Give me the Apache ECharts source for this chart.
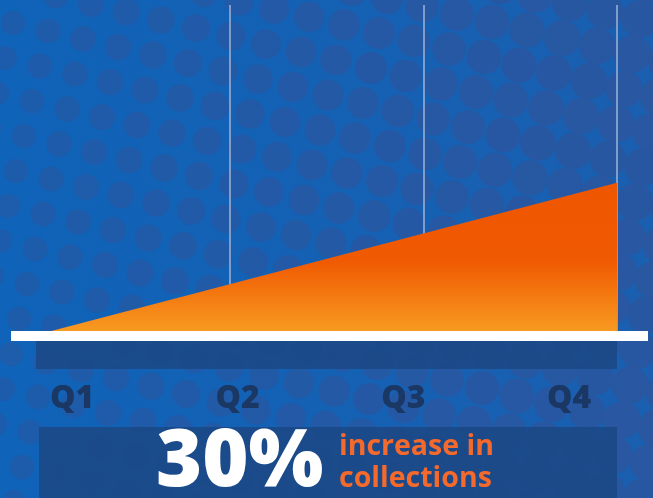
<!DOCTYPE html>
<html>
<head>
<meta charset="utf-8">
<script src="https://cdn.jsdelivr.net/npm/echarts@6/dist/echarts.min.js"></script>
<style>
html,body{margin:0;padding:0;background:#0f63b8;}
#chart{width:653px;height:498px;}
</style>
</head>
<body>
<div id="chart"></div>
<script>
// ---- data ----
var quarters = ['Q1', 'Q2', 'Q3', 'Q4'];
var collections = [0, 10, 20, 30];
var headline = '30%';
var caption = ['increase in', 'collections'];

// ---- chart ----
var chart = echarts.init(document.getElementById('chart'), null, {renderer: 'canvas'});

// decorative background dot pattern
var deco = [];
deco.push({type: 'rect', z: -20, shape: {x: 0, y: 0, width: 653, height: 498},
  style: {fill: new echarts.graphic.LinearGradient(0, 0, 1, 0, [
    {offset: 0, color: '#0f63b8'}, {offset: 1, color: '#1a5fb0'}])}});
for (var i = -20; i < 40; i++) {
  for (var j = -10; j < 25; j++) {
    var cx = 18 + i * 35 - j * 8;
    var cy = 40 + i * 8 + j * 35 - 200;
    if (cx < -25 || cx > 680 || cy < -25 || cy > 525) continue;
    var t = Math.max(0, Math.min(1, cx / 653));
    deco.push({type: 'circle', z: -15, silent: true,
      shape: {cx: cx, cy: cy, r: 12 + 7 * t},
      style: {fill: '#2b569f', opacity: 0.5 + 0.4 * t}});
  }
}
var FONT = '"Open Sans", Lato, sans-serif';
// overlays: baseline, dark band, caption box, texts
deco.push({type: 'rect', z: 100, shape: {x: 36, y: 341, width: 581, height: 28}, style: {fill: '#1b4a88', opacity: 0.95}});
deco.push({type: 'rect', z: 101, shape: {x: 11, y: 331, width: 637, height: 10}, style: {fill: '#ffffff'}});
deco.push({type: 'rect', z: 100, shape: {x: 39, y: 427, width: 578, height: 71}, style: {fill: '#1b4a88', opacity: 0.95}});
deco.push({type: 'text', z: 102, x: 156, y: 463, style: {text: headline, fill: '#ffffff',
  font: '800 79px ' + FONT, textAlign: 'left', textVerticalAlign: 'middle'}});
deco.push({type: 'text', z: 102, x: 339, y: 447, style: {text: caption[0], fill: '#f4692c',
  font: '700 28.5px ' + FONT, textAlign: 'left', textVerticalAlign: 'middle'}});
deco.push({type: 'text', z: 102, x: 339, y: 479, style: {text: caption[1], fill: '#f4692c',
  font: '700 28.5px ' + FONT, textAlign: 'left', textVerticalAlign: 'middle'}});

var option = {
  animation: false,
  backgroundColor: '#0f63b8',
  graphic: {elements: deco},
  grid: [
    {left: 36, right: 36, top: 5, bottom: 163},
    {left: 72, right: 84, top: 370, height: 0}
  ],
  xAxis: [
    {type: 'category', gridIndex: 0, data: quarters, boundaryGap: false,
      axisLine: {show: false}, axisTick: {show: false}, axisLabel: {show: false},
      splitLine: {show: true, interval: function (idx) { return idx > 0; },
        lineStyle: {color: '#7f9dcc', width: 2}}},
    {type: 'category', gridIndex: 1, data: quarters, boundaryGap: false,
      axisLine: {show: false}, axisTick: {show: false},
      axisLabel: {show: true, margin: 29, color: '#1b3763', fontSize: 32, fontWeight: 800,
        fontFamily: FONT, verticalAlign: 'middle', interval: 0},
      splitLine: {show: false}}
  ],
  yAxis: [
    {type: 'value', gridIndex: 0, min: 0, max: 65, show: false, splitLine: {show: false}},
    {type: 'value', gridIndex: 1, show: false}
  ],
  series: [{
    type: 'line', xAxisIndex: 0, yAxisIndex: 0,
    data: collections, symbol: 'none', z: 5,
    lineStyle: {width: 0},
    areaStyle: {opacity: 1, color: new echarts.graphic.LinearGradient(0, 0, 0, 1, [
      {offset: 0, color: '#ee5600'},
      {offset: 0.52, color: '#f05a02'},
      {offset: 1, color: '#f89e22'}])}
  }]
};
chart.setOption(option);
</script>
</body>
</html>
